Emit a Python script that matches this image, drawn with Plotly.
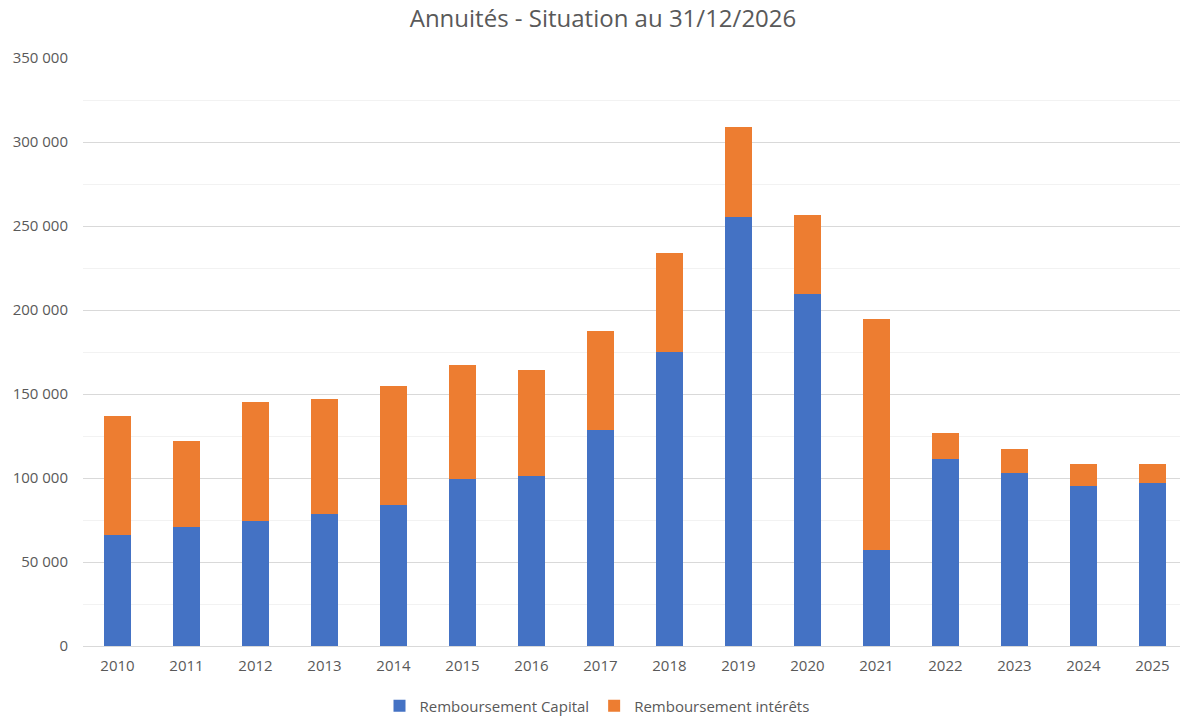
import plotly.graph_objects as go

years = ["2010", "2011", "2012", "2013", "2014", "2015", "2016", "2017",
         "2018", "2019", "2020", "2021", "2022", "2023", "2024", "2025"]
capital = [66100, 70800, 74400, 78400, 83700, 99600, 101400, 128800,
           175200, 255600, 209700, 57000, 111500, 102800, 95400, 97000]
totals = [136900, 121800, 145400, 147000, 154800, 167300, 164500, 187500,
          233900, 308700, 256300, 194600, 126800, 117300, 108100, 108100]
interets = [t - c for t, c in zip(totals, capital)]

font_family = "Open Sans, Liberation Sans, sans-serif"
gray = "#595959"

fig = go.Figure()
fig.add_trace(go.Bar(x=years, y=capital, name="Remboursement Capital",
                     marker=dict(color="#4472C4", line=dict(width=0))))
fig.add_trace(go.Bar(x=years, y=interets, name="Remboursement intérêts",
                     marker=dict(color="#ED7D31", line=dict(width=0))))

fig.update_layout(
    barmode="stack",
    bargap=0.61,
    width=1180, height=716,
    separators=", ",
    paper_bgcolor="white", plot_bgcolor="white",
    margin=dict(l=83, r=0, t=58, b=70, autoexpand=False),
    title=dict(text="Annuités - Situation au 31/12/2026", x=603 / 1180, xanchor="center",
               xref="container", yref="container", y=1 - 19 / 716, yanchor="middle",
               font=dict(family=font_family, size=24, color=gray)),
    font=dict(family=font_family, size=15, color=gray),
    legend=dict(orientation="h", x=597 / 1180, xanchor="center", xref="container",
                yref="container", y=1 - 706 / 716, yanchor="middle",
                itemwidth=30,
                font=dict(size=15, color=gray), traceorder="normal"),
    showlegend=True,
)
fig.update_xaxes(showgrid=False, showline=True, linecolor="#D9D9D9", linewidth=1,
                 ticks="", automargin=False, ticklabelstandoff=6,
                 range=[-0.5, 15.4],
                 tickfont=dict(size=15, color=gray))
fig.update_yaxes(range=[0, 350000], dtick=50000, tickformat=",d",
                 showgrid=True, gridcolor="#D9D9D9", gridwidth=1,
                 zeroline=False, showline=False, ticks="", automargin=False,
                 ticklabelstandoff=14,
                 tickfont=dict(size=15, color=gray),
                 minor=dict(dtick=25000, showgrid=True, gridcolor="#F2F2F2", gridwidth=1))

fig.write_html("out.html", config={"displayModeBar": False},
               post_script="document.body.style.margin='0';document.body.style.overflow='hidden';")
